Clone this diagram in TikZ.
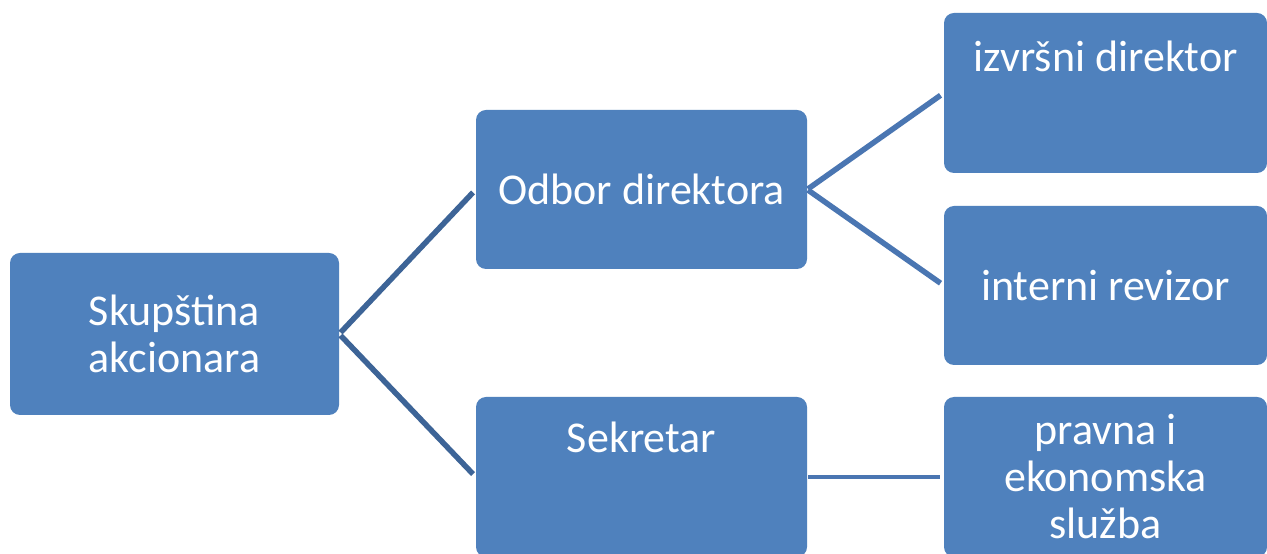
\documentclass[tikz,border=0pt]{standalone}
\usepackage{fontspec}
\setmainfont{Carlito}
\definecolor{boxblue}{HTML}{4F81BD}
\definecolor{lineA}{HTML}{3D6497}
\definecolor{lineB}{HTML}{4A76B2}
\begin{document}
\begin{tikzpicture}[x=1pt,y=1pt,
  orgbox/.style={draw=none,fill=boxblue,rounded corners=10pt,inner sep=0pt},
  lbl/.style={text=white,font=\fontsize{44}{47}\selectfont,align=center,inner sep=0pt},
  conA/.style={draw=lineA,line width=5.5pt},
  conB/.style={draw=lineB,line width=5.5pt}]
\clip (0,0) rectangle (1267,554);
\fill[white] (0,0) rectangle (1267,554);
% boxes
\node[orgbox,minimum width=329pt,minimum height=162pt] (skup) at (174.5,220) {};
\node[orgbox,minimum width=331pt,minimum height=159pt] (odbor) at (641.5,364.5) {};
\node[orgbox,minimum width=331pt,minimum height=160pt] (sekr) at (641.5,77) {};
\node[orgbox,minimum width=323pt,minimum height=160pt] (izvr) at (1105.5,461) {};
\node[orgbox,minimum width=323pt,minimum height=159pt] (intr) at (1105.5,268.5) {};
\node[orgbox,minimum width=323pt,minimum height=160pt] (prav) at (1105.5,77) {};
% texts
\node[lbl] (tskup) at (skup.center) {Skupština\\akcionara};
\node[lbl] (todbor) at (odbor.center) {Odbor direktora};
\node[lbl,anchor=base] (tsekr) at (641.5,101) {Sekretar};
\node[lbl,anchor=base] (tizvr) at (1105.5,482) {izvršni direktor};
\node[lbl] (tintr) at (intr.center) {interni revizor};
\node[lbl] (tprav) at (prav.center) {pravna i\\ekonomska\\služba};
% connectors
\draw[conA,shorten >=4pt,shorten <=2pt] (skup.east) -- (odbor.west);
\draw[conA,shorten >=4pt,shorten <=2pt] (skup.east) -- (sekr.west);
\draw[conB,shorten >=4pt,shorten <=1pt] (odbor.east) -- (izvr.west);
\draw[conB,shorten >=4pt,shorten <=1pt] (odbor.east) -- (intr.west);
\draw[conB,line width=4.5pt,shorten >=4pt,shorten <=1pt] (sekr.east) -- (prav.west);
\end{tikzpicture}
\end{document}
